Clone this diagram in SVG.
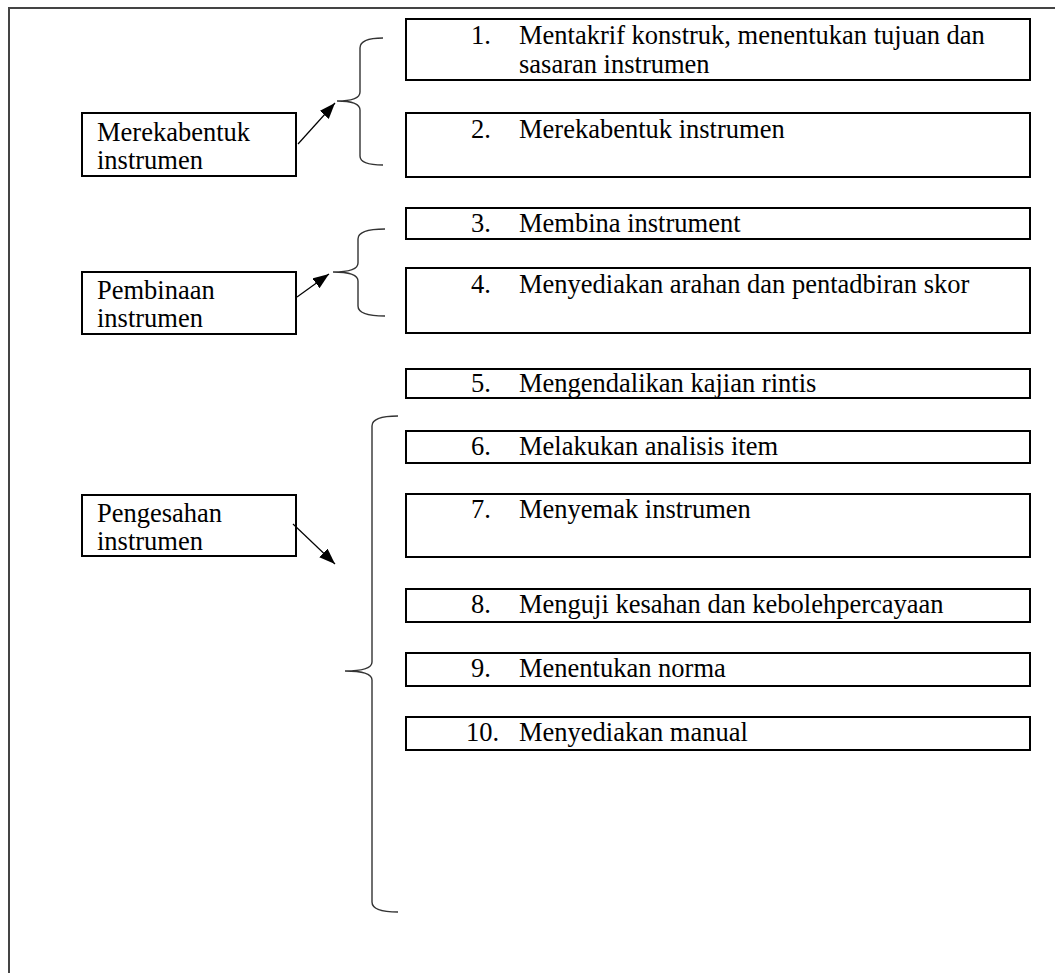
<svg xmlns="http://www.w3.org/2000/svg" width="1055" height="973" viewBox="0 0 1055 973">
  <style>
    .box { fill: #fff; stroke: #000; stroke-width: 2; }
    .txt { font-family: "Liberation Serif", "Times New Roman", serif; font-size: 26.5px; fill: #000; }
    .brace { fill: none; stroke: #333; stroke-width: 1.4; }
    .arrow { fill: none; stroke: #000; stroke-width: 1.2; marker-end: url(#head); }
    .frame { fill: none; stroke: #444; stroke-width: 2; }
  </style>
  <defs>
    <marker id="head" markerUnits="userSpaceOnUse" markerWidth="18" markerHeight="14" refX="16" refY="6" orient="auto">
      <path d="M0,0 L16,6 L0,12 Z" fill="#000"/>
    </marker>
  </defs>

  <rect width="1055" height="973" fill="#fff"/>
  <!-- page frame (top and left edges) -->
  <path class="frame" d="M1055,8 L9,8 L9,973"/>

  <!-- stage labels -->
  <g id="stage-merekabentuk">
    <rect class="box" x="82" y="113" width="214" height="63"/>
    <text class="txt" x="97" y="141">Merekabentuk</text>
    <text class="txt" x="97" y="169">instrumen</text>
  </g>
  <g id="stage-pembinaan">
    <rect class="box" x="82" y="272" width="214" height="62"/>
    <text class="txt" x="97" y="299">Pembinaan</text>
    <text class="txt" x="97" y="327">instrumen</text>
  </g>
  <g id="stage-pengesahan">
    <rect class="box" x="82" y="495" width="214" height="61"/>
    <text class="txt" x="97" y="522">Pengesahan</text>
    <text class="txt" x="97" y="550">instrumen</text>
  </g>

  <!-- steps -->
  <g id="step-1">
    <rect class="box" x="406" y="19" width="624" height="61"/>
    <text class="txt" x="471" y="44">1.</text>
    <text class="txt" x="519" y="44">Mentakrif konstruk, menentukan tujuan dan</text>
    <text class="txt" x="519" y="73">sasaran instrumen</text>
  </g>
  <g id="step-2">
    <rect class="box" x="406" y="113" width="624" height="64"/>
    <text class="txt" x="471" y="138">2.</text>
    <text class="txt" x="519" y="138">Merekabentuk instrumen</text>
  </g>
  <g id="step-3">
    <rect class="box" x="406" y="208" width="624" height="31"/>
    <text class="txt" x="471" y="232">3.</text>
    <text class="txt" x="519" y="232">Membina instrument</text>
  </g>
  <g id="step-4">
    <rect class="box" x="406" y="268" width="624" height="65"/>
    <text class="txt" x="471" y="293">4.</text>
    <text class="txt" x="519" y="293">Menyediakan arahan dan pentadbiran skor</text>
  </g>
  <g id="step-5">
    <rect class="box" x="406" y="369" width="624" height="29"/>
    <text class="txt" x="471" y="392">5.</text>
    <text class="txt" x="519" y="392">Mengendalikan kajian rintis</text>
  </g>
  <g id="step-6">
    <rect class="box" x="406" y="431" width="624" height="32"/>
    <text class="txt" x="471" y="455">6.</text>
    <text class="txt" x="519" y="455">Melakukan analisis item</text>
  </g>
  <g id="step-7">
    <rect class="box" x="406" y="494" width="624" height="63"/>
    <text class="txt" x="471" y="518">7.</text>
    <text class="txt" x="519" y="518">Menyemak instrumen</text>
  </g>
  <g id="step-8">
    <rect class="box" x="406" y="589" width="624" height="33"/>
    <text class="txt" x="471" y="613">8.</text>
    <text class="txt" x="519" y="613">Menguji kesahan dan kebolehpercayaan</text>
  </g>
  <g id="step-9">
    <rect class="box" x="406" y="653" width="624" height="33"/>
    <text class="txt" x="471" y="677">9.</text>
    <text class="txt" x="519" y="677">Menentukan norma</text>
  </g>
  <g id="step-10">
    <rect class="box" x="406" y="717" width="624" height="33"/>
    <text class="txt" x="466" y="741">10.</text>
    <text class="txt" x="519" y="741">Menyediakan manual</text>
  </g>

  <!-- braces and arrows -->
  <g id="connectors">
    <path class="brace" d="M383,38 Q360,38 360,48 L360,92 Q360,101 337,101 Q360,101 360,110 L360,156 Q360,165 383,165"/>
    <path class="brace" d="M385,229 Q358,229 358,239 L358,263 Q358,272 333,272 Q358,272 358,281 L358,306 Q358,316 385,316"/>
    <path class="brace" d="M398,416 Q372,416 372,426 L372,662 Q372,671 345,671 Q372,671 372,680 L372,902 Q372,912 398,912"/>
    <line class="arrow" x1="298" y1="144" x2="335" y2="103"/>
    <line class="arrow" x1="297" y1="297" x2="329" y2="274"/>
    <line class="arrow" x1="293" y1="524" x2="335" y2="564"/>
  </g>
</svg>
